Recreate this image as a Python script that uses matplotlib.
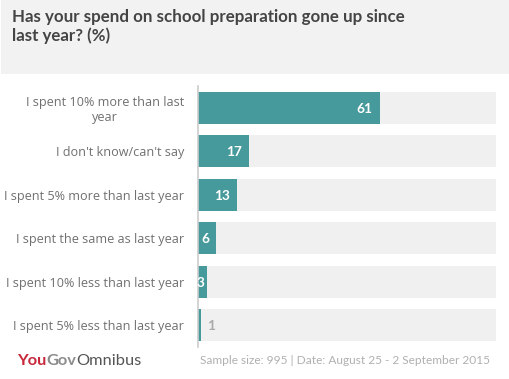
import matplotlib.pyplot as plt
import matplotlib.patches as mpatches
from matplotlib.transforms import offset_copy

categories = [
    'I spent 10% more than last\nyear',
    'I don\'t know/can\'t say',
    'I spent 5% more than last year',
    'I spent the same as last year',
    'I spent 10% less than last year',
    'I spent 5% less than last year',
]
values = [61, 17, 13, 6, 3, 1]
title = 'Has your spend on school preparation gone up since\nlast year? (%)'
note = 'Sample size: 995 | Date: August 25 - 2 September 2015'

TEAL = '#479a9b'
plt.rcParams['font.family'] = ['Lato', 'DejaVu Sans']


def main():
    fig = plt.figure(figsize=(5.10, 3.79), dpi=100)
    fig.patch.set_facecolor('white')

    # grey header band
    fig.patches.append(mpatches.Rectangle((0.002, 1 - 74 / 379), 0.996, 74 / 379,
                                          transform=fig.transFigure,
                                          facecolor='#f2f2f2', edgecolor='none'))
    fig.text(12 / 510, 1 - 9 / 379, title, ha='left', va='top',
             fontsize=12.2, fontweight='bold', color='#444444', linespacing=1.2)

    ax = fig.add_axes([198 / 510, 1 - 347 / 379, 298 / 510, (347 - 86) / 379])
    y = list(range(len(values)))
    ax.barh(y, [100] * len(values), height=0.74, color='#f0f0f0', zorder=1)
    ax.barh(y, values, height=0.74, color=TEAL, zorder=2)
    ax.set_xlim(0, 100)
    ax.set_ylim(len(values) - 0.5, -0.5)
    ax.set_yticks(y)
    ax.set_yticklabels(categories, fontsize=9.1, color='#707070',
                       multialignment='center', family=['Open Sans', 'DejaVu Sans'])
    ax.tick_params(axis='y', length=0, pad=10)
    ax.set_xticks([])
    for s in ['top', 'right', 'bottom']:
        ax.spines[s].set_visible(False)
    ax.spines['left'].set_color('#cccccc')
    ax.spines['left'].set_linewidth(1.2)
    ax.spines['left'].set_zorder(3)

    for yi, v in zip(y, values):
        if v >= 5:
            tr = offset_copy(ax.transData, fig=fig, x=-7, y=-1, units='dots')
            ax.text(v, yi, str(v), transform=tr, ha='right', va='center',
                    fontsize=9.8, fontweight='bold', color='white', zorder=4)
        elif v >= 2:
            tr = offset_copy(ax.transData, fig=fig, x=-1, y=-1, units='dots')
            ax.text(0, yi, str(v), transform=tr, ha='left', va='center',
                    fontsize=9.8, fontweight='bold', color='white', zorder=4)
        else:
            tr = offset_copy(ax.transData, fig=fig, x=6, y=-1, units='dots')
            ax.text(v, yi, str(v), transform=tr, ha='left', va='center',
                    fontsize=9.8, fontweight='bold', color='#aaaaaa', zorder=4)

    # footer
    fy = 1 - 361 / 379
    t1 = fig.text(17 / 510, fy, 'You', ha='left', va='center', fontsize=11.8,
                  fontweight='bold', color='#c8283c')
    fig.canvas.draw()
    r = fig.canvas.get_renderer()
    x = (17 + t1.get_window_extent(r).width) / 510
    t2 = fig.text(x, fy, 'Gov', ha='left', va='center', fontsize=11.8,
                  fontweight='bold', color='#8c8c8c')
    x += t2.get_window_extent(r).width / 510
    fig.text(x, fy, 'Omnibus', ha='left', va='center', fontsize=11.8,
             color='#555555')
    fig.text(200 / 510, fy, note, ha='left', va='center', fontsize=8.6,
             color='#b0b0b0')

    fig.savefig('out.png', dpi=100)


if __name__ == '__main__':
    main()
